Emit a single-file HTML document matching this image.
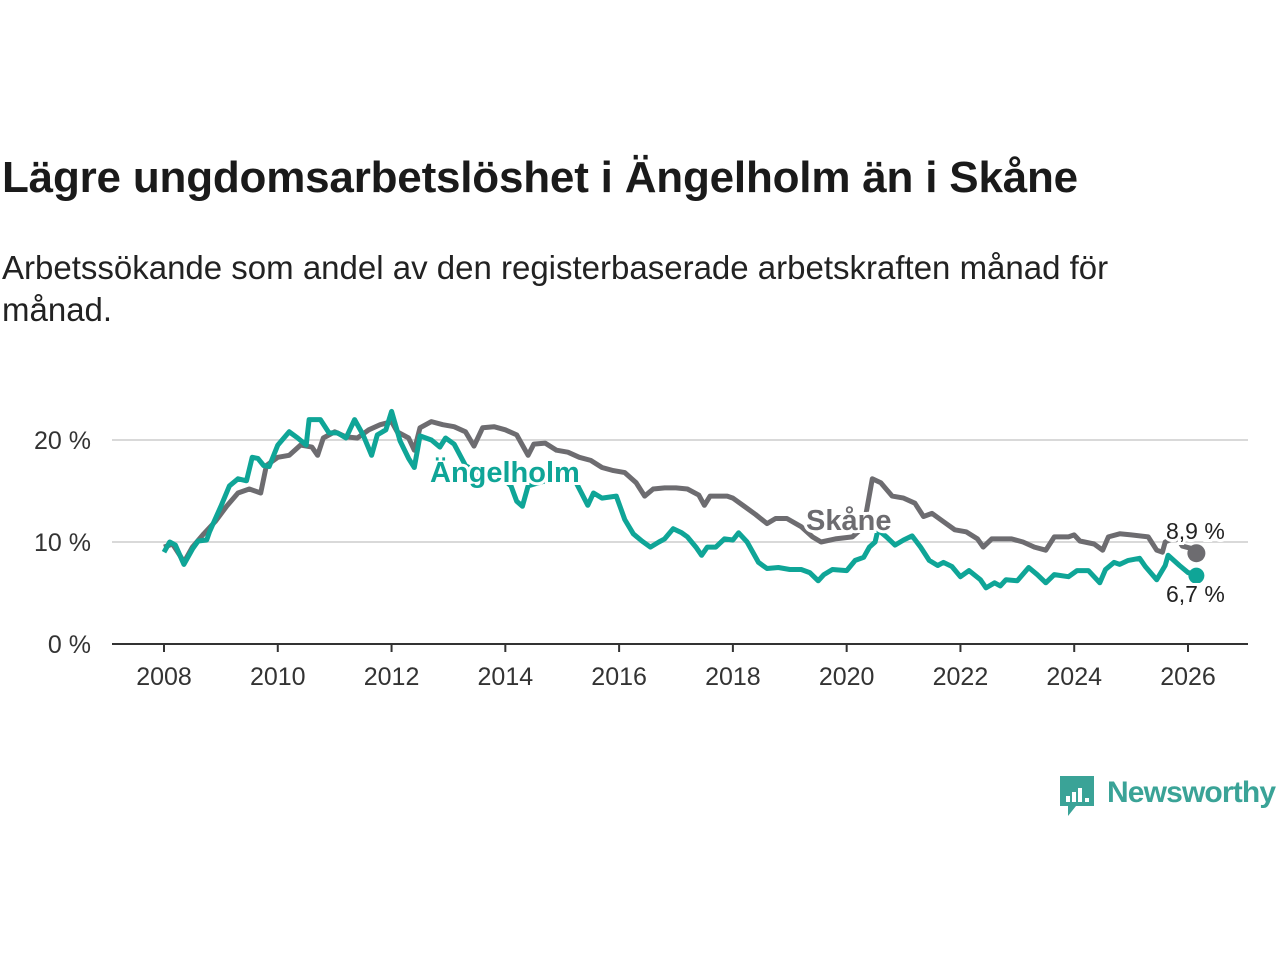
<!DOCTYPE html>
<html><head><meta charset="utf-8"><style>
body{margin:0;background:#fff;width:1280px;height:960px;overflow:hidden;font-family:"Liberation Sans",sans-serif;}
#t{position:absolute;left:2px;top:153px;font-size:44px;font-weight:bold;color:#1a1a1a;margin:0;letter-spacing:-0.2px;white-space:nowrap}
#s{position:absolute;left:2px;top:247px;font-size:33px;color:#222;line-height:42px;width:1200px}
svg{position:absolute;left:0;top:0}
</style></head><body>
<h1 id="t">Lägre ungdomsarbetslöshet i Ängelholm än i Skåne</h1>
<div id="s">Arbetssökande som andel av den registerbaserade arbetskraften månad för månad.</div>
<svg id="c" width="1280" height="960"></svg>
<script>
const skX=[2008,2008.15,2008.3,2008.35,2008.5,2008.7,2008.9,2009.1,2009.3,2009.5,2009.7,2009.8,2010,2010.2,2010.4,2010.6,2010.7,2010.8,2011,2011.2,2011.4,2011.6,2011.8,2012,2012.1,2012.3,2012.4,2012.5,2012.7,2012.9,2013.1,2013.3,2013.45,2013.6,2013.8,2014,2014.2,2014.3,2014.4,2014.5,2014.7,2014.9,2015.1,2015.3,2015.5,2015.7,2015.9,2016.1,2016.3,2016.45,2016.6,2016.8,2017,2017.2,2017.4,2017.5,2017.6,2017.9,2018,2018.2,2018.4,2018.6,2018.75,2018.95,2019.2,2019.4,2019.55,2019.8,2020.1,2020.3,2020.45,2020.6,2020.8,2021,2021.2,2021.35,2021.5,2021.7,2021.9,2022.1,2022.3,2022.4,2022.55,2022.9,2023.1,2023.3,2023.5,2023.65,2023.9,2024,2024.1,2024.35,2024.5,2024.6,2024.8,2025,2025.3,2025.45,2025.55,2025.6,2025.8,2025.9,2026.1,2026.2];
const skV=[9.5,9.8,8.5,8,9.5,10.8,12,13.5,14.8,15.2,14.8,17.5,18.3,18.5,19.5,19.3,18.5,20.2,20.8,20.3,20.2,21,21.5,21.8,20.8,20.2,19,21.2,21.8,21.5,21.3,20.8,19.4,21.2,21.3,21,20.5,19.5,18.5,19.6,19.7,19,18.8,18.3,18,17.3,17,16.8,15.8,14.5,15.2,15.3,15.3,15.2,14.6,13.6,14.5,14.5,14.3,13.5,12.7,11.8,12.3,12.3,11.5,10.5,10,10.3,10.5,11.5,16.2,15.8,14.5,14.3,13.8,12.5,12.8,12,11.2,11,10.3,9.5,10.3,10.3,10,9.5,9.2,10.5,10.5,10.7,10.1,9.8,9.2,10.5,10.8,10.7,10.5,9.2,9,10,10.5,9.6,9.3,8.9];
const agX=[2008,2008.1,2008.2,2008.35,2008.5,2008.6,2008.75,2008.8,2009,2009.15,2009.3,2009.45,2009.55,2009.65,2009.75,2009.85,2010,2010.2,2010.35,2010.5,2010.55,2010.75,2010.9,2011.05,2011.2,2011.35,2011.5,2011.65,2011.75,2011.9,2012,2012.15,2012.3,2012.4,2012.5,2012.7,2012.85,2012.95,2013.1,2013.3,2013.6,2013.9,2014.1,2014.2,2014.3,2014.4,2014.7,2015,2015.2,2015.45,2015.55,2015.7,2015.95,2016.1,2016.25,2016.4,2016.55,2016.7,2016.8,2016.95,2017.1,2017.2,2017.35,2017.45,2017.55,2017.7,2017.85,2018,2018.1,2018.25,2018.45,2018.6,2018.8,2019,2019.2,2019.35,2019.5,2019.6,2019.75,2020,2020.15,2020.3,2020.4,2020.5,2020.55,2020.7,2020.85,2021,2021.15,2021.3,2021.45,2021.6,2021.7,2021.85,2022,2022.15,2022.35,2022.45,2022.6,2022.7,2022.8,2023,2023.2,2023.35,2023.5,2023.65,2023.9,2024.05,2024.25,2024.45,2024.55,2024.7,2024.8,2024.95,2025.15,2025.25,2025.45,2025.6,2025.65,2025.85,2026,2026.12,2026.2];
const agV=[9,10,9.7,7.8,9.3,10.1,10.2,11,13.5,15.5,16.2,16,18.3,18.2,17.5,17.4,19.5,20.8,20.2,19.5,22,22,20.7,20.7,20.2,22,20.5,18.5,20.5,21,22.8,19.9,18.2,17.3,20.4,20,19.3,20.2,19.6,17.5,16.5,16.5,15.5,14,13.5,15.5,16,16.3,16.3,13.6,14.8,14.3,14.5,12.2,10.8,10.1,9.5,10,10.3,11.3,10.9,10.5,9.5,8.7,9.5,9.5,10.3,10.2,10.9,10,8,7.4,7.5,7.3,7.3,7,6.2,6.8,7.3,7.2,8.2,8.5,9.5,10,11.2,10.5,9.7,10.2,10.6,9.5,8.2,7.7,8,7.6,6.6,7.2,6.3,5.5,6,5.7,6.3,6.2,7.5,6.8,6,6.8,6.6,7.2,7.2,6,7.3,8,7.8,8.2,8.4,7.6,6.3,7.7,8.7,7.7,7,6.9,6.7];
const xTicks=[2008,2010,2012,2014,2016,2018,2020,2022,2024,2026];
const yTicks=[0,10,20];
const X=y=>164+(y-2008)*1024/18, Y=v=>644-v*10.2;
const svg=document.getElementById('c'),NS='http://www.w3.org/2000/svg';
function mk(t,a,txt){const e=document.createElementNS(NS,t);for(const k in a)e.setAttribute(k,a[k]);if(txt!=null)e.textContent=txt;svg.appendChild(e);return e;}
yTicks.forEach(v=>{
 if(v>0){const g=mk('line',{x1:112,x2:1248,y1:Y(v),y2:Y(v),stroke:'#d9d9d9','stroke-width':2});
 
 }
 const t=mk('text',{x:91,y:Y(v)+9,'text-anchor':'end','font-size':25,fill:'#333'},v+' %');
 
 
});
const ax=mk('line',{x1:112,x2:1248,y1:644,y2:644,stroke:'#333','stroke-width':2});


xTicks.forEach(y=>{
 const l=mk('line',{x1:X(y),x2:X(y),y1:644,y2:652,stroke:'#333','stroke-width':2});
 
 
 const t=mk('text',{x:X(y),y:685,'text-anchor':'middle','font-size':25,fill:'#333'},y);
 
 
});
function line(xs,vs,col,name){
 const p=mk('path',{d:xs.map((x,i)=>(i?'L':'M')+X(x).toFixed(1)+','+Y(vs[i]).toFixed(1)).join(''),fill:'none',stroke:col,'stroke-width':5,'stroke-linejoin':'round'});
 
 
}
line(skX,skV,'#6d6c70','skane-line');
line(agX,agV,'#0fa597','angelholm-line');
const d1=mk('circle',{cx:X(skX[skX.length-1])-3,cy:Y(skV[skV.length-1]),r:9,fill:'#6d6c70'});


const d2=mk('circle',{cx:X(agX[agX.length-1])-3,cy:Y(agV[agV.length-1]),r:8,fill:'#0fa597'});


function lab(x,y,txt,col,name,size,bold){
 const t=mk('text',{x:x,y:y,'font-size':size,'font-weight':bold?'bold':'normal',fill:col,stroke:'#fff','stroke-width':6,'paint-order':'stroke'},txt);
 
 
}
lab(430,482,'Ängelholm','#0fa597','angelholm-label',29,true);
lab(806,530,'Skåne','#6d6c70','skane-label',29,true);
lab(1166,539,'8,9 %','#222','skane-end-value',23,false);
lab(1166,602,'6,7 %','#222','angelholm-end-value',23,false);
const lg=mk('path',{d:'M1060,776h34v30h-18l-8,10v-10h-8z',fill:'#3aa397'});


[[1066,796,6],[1072,792,10],[1078,788,14],[1085,798,4]].forEach(b=>{
 const r=mk('rect',{x:b[0],y:b[1],width:4,height:b[2],fill:'#fff'});
 
 
});
const lt=mk('text',{x:1107,y:802,'font-size':30,fill:'#3aa397','font-weight':'bold','textLength':169},'Newsworthy');


</script>
</body></html>
